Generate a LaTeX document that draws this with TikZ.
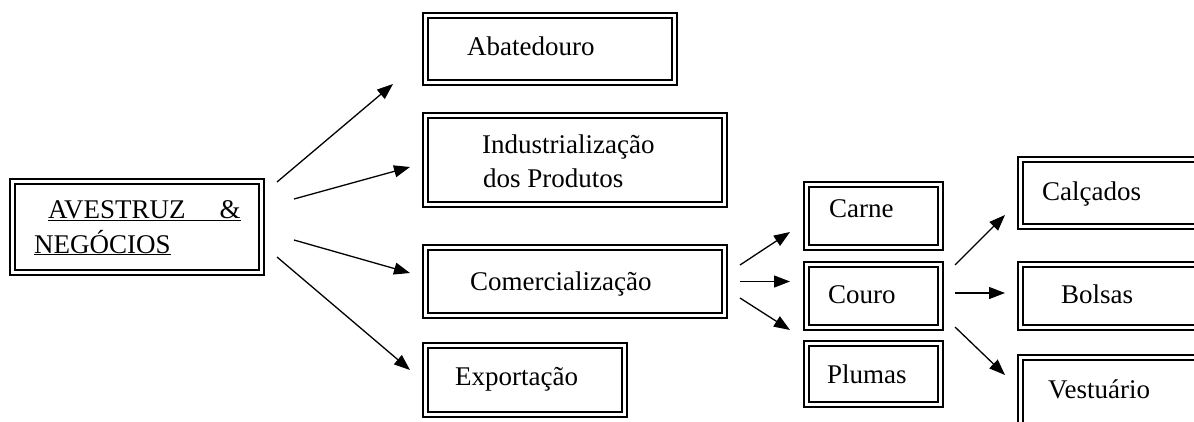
\documentclass[tikz,border=0pt]{standalone}
\usepackage{fontspec}
\setmainfont{Liberation Serif}
\usetikzlibrary{arrows.meta}

\begin{document}
\begin{tikzpicture}
    [x=1pt, y=-1pt,
    ->-/.style={line width=1.3pt, -{Triangle[length=16pt,width=12pt]}},
    dbox/.style={draw, line width=1.1pt, inner sep=0pt, outer sep=0pt, anchor=north west,
        path picture={\draw[line width=#1]
            ([shift={(5pt,-5pt)}]path picture bounding box.north west) rectangle
            ([shift={(-5pt,5pt)}]path picture bounding box.south east);}},
    dbox/.default=2.5pt,
    txt/.style={anchor=base west, inner sep=0pt, font=\fontsize{27}{34}\selectfont}]
        \useasboundingbox (0,0) rectangle (1194,421);

        %% Boxes
        \node[dbox=1.3pt, minimum width=254pt, minimum height=96pt] (avest) at (10,179) {};
        \node[dbox, minimum width=254pt, minimum height=72pt] (abat) at (423,13) {};
        \node[dbox, minimum width=304pt, minimum height=94pt] (indus) at (423,113) {};
        \node[dbox, minimum width=304pt, minimum height=73pt] (comer) at (423,245) {};
        \node[dbox, minimum width=204pt, minimum height=74pt] (expo) at (423,343) {};
        \node[dbox, minimum width=139pt, minimum height=68pt] (carne) at (804,182) {};
        \node[dbox, minimum width=139pt, minimum height=68pt] (couro) at (804,262) {};
        \node[dbox, minimum width=139pt, minimum height=66pt] (plumas) at (804,341) {};
        \node[dbox, minimum width=200pt, minimum height=72pt] (calc) at (1018,157) {};
        \node[dbox, minimum width=200pt, minimum height=68pt] (bolsas) at (1018,262) {};
        \node[dbox, minimum width=200pt, minimum height=90pt] (vest) at (1018,355) {};

        %% Texts
        \node[txt] (avest-t1) at (48,218) {\underline{AVESTRUZ\hspace{34pt}\&}};
        \node[txt] (avest-t2) at (34,253) {\underline{NEGÓCIOS}};
        \node[txt] (abat-t) at (467,55) {Abatedouro};
        \node[txt] (indus-t1) at (482,153) {Industrialização};
        \node[txt] (indus-t2) at (483,187) {dos Produtos};
        \node[txt] (comer-t) at (470,290) {Comercialização};
        \node[txt] (expo-t) at (455,385) {Exportação};
        \node[txt] (carne-t) at (829,217) {Carne};
        \node[txt] (couro-t) at (828,303) {Couro};
        \node[txt] (plumas-t) at (827,383) {Plumas};
        \node[txt] (calc-t) at (1042,200) {Calçados};
        \node[txt] (bolsas-t) at (1061,303) {Bolsas};
        \node[txt] (vest-t) at (1048,398) {Vestuário};

        %% Arrows
        \draw[->-] ([shift={(13,3)}]avest.north east) -- ([shift={(-30,-1)}]abat.south west);
        \draw[->-] ([shift={(30,-28)}]avest.east) -- ([shift={(-13,7)}]indus.west);
        \draw[->-] ([shift={(30,13)}]avest.east) -- ([shift={(-13,-8.5)}]comer.west);
        \draw[->-] ([shift={(13,-18)}]avest.south east) -- ([shift={(-13,-10)}]expo.west);

        \draw[->-] ([shift={(13,-16.5)}]comer.east) -- ([shift={(-14,-18)}]carne.south west);
        \draw[->-] ([shift={(13,0)}]comer.east) -- ([shift={(-14,-14.5)}]couro.west);
        \draw[->-] ([shift={(13,16.5)}]comer.east) -- ([shift={(-14,0)}]couro.south west);

        \draw[->-] ([shift={(12,-31)}]couro.east) -- ([shift={(-13,-14)}]calc.south west);
        \draw[->-] ([shift={(12,-3)}]couro.east) -- ([shift={(-13,-3)}]bolsas.west);
        \draw[->-] ([shift={(12,31)}]couro.east) -- ([shift={(-13,20)}]vest.north west);
    \end{tikzpicture}
\end{document}
